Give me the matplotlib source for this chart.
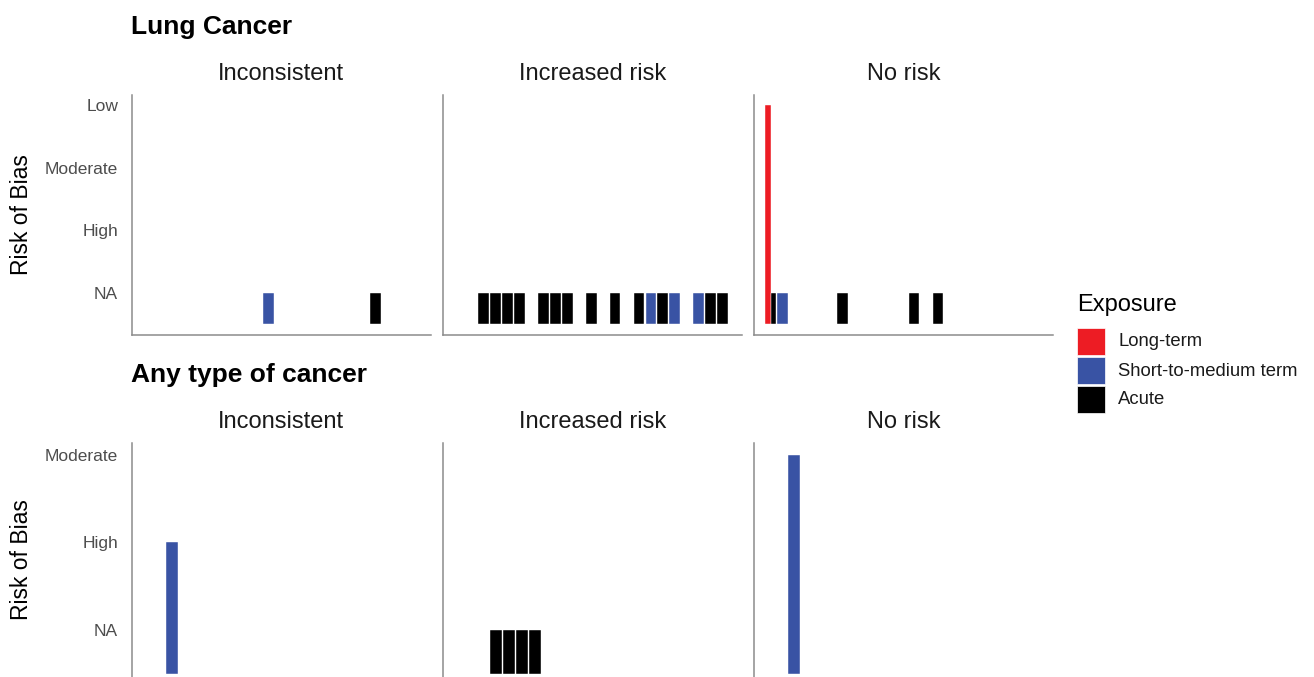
import matplotlib.pyplot as plt
from matplotlib.patches import Rectangle

plt.rcParams['font.family'] = ['Liberation Sans', 'DejaVu Sans']

# risk of bias categories, bottom to top
rob_levels = ['NA', 'High', 'Moderate', 'Low']
exposures = ['Long-term', 'Short-to-medium term', 'Acute']
colors = {'Long-term': '#ED1C24', 'Short-to-medium term': '#3953A4', 'Acute': '#000000'}
panels = ['Inconsistent', 'Increased risk', 'No risk']

# Lung Cancer
lung_incons_x = [11, 20]
lung_incons_exp = ['Short-to-medium term', 'Acute']
lung_incons_rob = ['NA', 'NA']

lung_incr_x = [3, 4, 5, 6, 8, 9, 10, 12, 14, 16, 17, 18, 19, 21, 22, 23]
lung_incr_exp = ['Acute', 'Acute', 'Acute', 'Acute', 'Acute', 'Acute', 'Acute', 'Acute', 'Acute',
                 'Acute', 'Short-to-medium term', 'Acute', 'Short-to-medium term',
                 'Short-to-medium term', 'Acute', 'Acute']
lung_incr_rob = ['NA'] * 16

lung_norisk_x = [1, 1, 2, 7, 13, 15]
lung_norisk_exp = ['Long-term', 'Acute', 'Short-to-medium term', 'Acute', 'Acute', 'Acute']
lung_norisk_rob = ['Low', 'NA', 'NA', 'NA', 'NA', 'NA']

# Any type of cancer
any_incons_x = [3]
any_incons_exp = ['Short-to-medium term']
any_incons_rob = ['High']

any_incr_x = [4, 5, 6, 7]
any_incr_exp = ['Acute'] * 4
any_incr_rob = ['NA'] * 4

any_norisk_x = [3]
any_norisk_exp = ['Short-to-medium term']
any_norisk_rob = ['Moderate']

rows = [
    ('Lung Cancer', [(lung_incons_x, lung_incons_exp, lung_incons_rob),
                     (lung_incr_x, lung_incr_exp, lung_incr_rob),
                     (lung_norisk_x, lung_norisk_exp, lung_norisk_rob)],
     (-0.41, 24.59), (0.33, 4.16), rob_levels),
    ('Any type of cancer', [(any_incons_x, any_incons_exp, any_incons_rob),
                            (any_incr_x, any_incr_exp, any_incr_rob),
                            (any_norisk_x, any_norisk_exp, any_norisk_rob)],
     (-0.05, 22.85), (0.46, 3.136), rob_levels[:3]),
]

W, H = 1314, 677
fig = plt.figure(figsize=(W / 100, H / 100), dpi=100)

lefts = [132, 443, 754]
pw = 298.5
row_box = [(95, 335), (443, 677)]
row_title_y = [27, 375]
strip_y = [74, 422]

for r, (title, data, xlim, ylim, ticks) in enumerate(rows):
    top, bot = row_box[r]
    fig.text(131 / W, 1 - row_title_y[r] / H, title, fontsize=19, fontweight='bold',
             ha='left', va='center')
    for p, (xs, exps, robs) in enumerate(data):
        ax = fig.add_axes([lefts[p] / W, 1 - bot / H, pw / W, (bot - top) / H])
        # dodge bars sharing the same x
        groups = {}
        for i, x in enumerate(xs):
            groups.setdefault(x, []).append(i)
        for x, idx in groups.items():
            n = len(idx)
            w = 0.9 / n
            for k, i in enumerate(idx):
                xc = x - 0.45 + w * (k + 0.5)
                h = rob_levels.index(robs[i]) + 1
                ax.bar(xc, h - 0.5, bottom=0.5, width=w, color=colors[exps[i]],
                       edgecolor='white', linewidth=0.3)
        ax.set_xlim(*xlim)
        ax.set_ylim(*ylim)
        ax.set_xticks([])
        if p == 0:
            ax.set_yticks(range(1, len(ticks) + 1))
            ax.set_yticklabels(ticks)
            ax.tick_params(axis='y', length=0, pad=10, labelsize=12.5, labelcolor='#4D4D4D')
        else:
            ax.set_yticks([])
        for s in ['top', 'right']:
            ax.spines[s].set_visible(False)
        for s in ['left', 'bottom']:
            ax.spines[s].set_color('#8C8C8C')
            ax.spines[s].set_linewidth(1.1)
        if r == 1:
            ax.spines['bottom'].set_visible(False)
        fig.text((lefts[p] + pw / 2) / W, 1 - strip_y[r] / H, panels[p], fontsize=17,
                 ha='center', va='center', color='#1A1A1A')
    fig.text(22 / W, 1 - (top + bot) / 2 / H, 'Risk of Bias', fontsize=16.5,
             rotation=90, ha='center', va='center')

# legend
fig.text(1077 / W, 1 - 305 / H, 'Exposure', fontsize=17, ha='left', va='center')
key_y = [328, 357, 386]
for e, ky in zip(exposures, key_y):
    fig.add_artist(Rectangle((1077 / W, 1 - (ky + 27) / H), 28 / W, 27 / H,
                             transform=fig.transFigure, facecolor=colors[e],
                             edgecolor='white', linewidth=0.5))
    fig.text(1118 / W, 1 - (ky + 14) / H, e, fontsize=13.3, ha='left', va='center',
             color='#1A1A1A')

fig.savefig('out.png', dpi=100)
